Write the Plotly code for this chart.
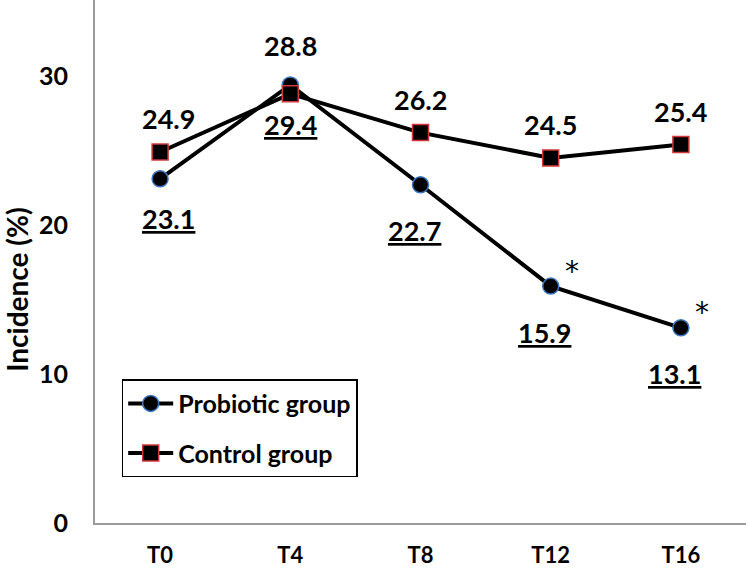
import plotly.graph_objects as go

# time points and incidence values (%)
timepoints = ["T0", "T4", "T8", "T12", "T16"]
probiotic = [23.1, 29.4, 22.7, 15.9, 13.1]
control = [24.9, 28.8, 26.2, 24.5, 25.4]
significant = [False, False, False, True, True]  # * marks on probiotic group

FONT = "Lato"

fig = go.Figure()

fig.add_trace(go.Scatter(
    x=timepoints, y=probiotic, mode="lines+markers", name="Probiotic group",
    legendgroup="p",
    line=dict(color="black", width=4),
    marker=dict(symbol="circle", size=16, color="black", line=dict(color="#3a78c2", width=1.5)),
))
fig.add_trace(go.Scatter(
    x=timepoints, y=control, mode="lines+markers", name="Control group",
    legendgroup="c",
    line=dict(color="black", width=4),
    marker=dict(symbol="square", size=16, color="black", line=dict(color="#d0383a", width=1.5)),
))

# value labels: control above, probiotic below (underlined)
for i, t in enumerate(timepoints):
    up = 48 if t == "T4" else 33
    fig.add_annotation(x=t, y=control[i], text=f"{control[i]}", showarrow=False,
                       yshift=up, xshift=8 if i == 0 else 0,
                       font=dict(family=FONT, size=27, color="black", weight="bold"))
    down = -40 if i < 2 else -46
    xs = 8 if i == 0 else (-6 if i >= 2 else 0)
    fig.add_annotation(x=t, y=probiotic[i], text=f"<u>{probiotic[i]}</u>", showarrow=False,
                       yshift=down, xshift=xs,
                       font=dict(family=FONT, size=27, color="black", weight="bold"))
    if significant[i]:
        fig.add_annotation(x=t, y=probiotic[i], text="*", showarrow=False,
                           xshift=21, yshift=15,
                           font=dict(family="DejaVu Sans", size=28, color="black"))

fig.add_annotation(xref="paper", yref="paper", x=-0.119, y=0.445, text="Incidence (%)",
                   textangle=-90, showarrow=False, xanchor="center", yanchor="middle",
                   font=dict(family=FONT, size=28, color="black", weight="bold"))

fig.update_xaxes(
    type="category", range=[-0.5, 4.5], showline=True, linecolor="#9a9a9a", linewidth=2,
    showgrid=False, ticks="", ticklabelstandoff=12, automargin=False,
    tickfont=dict(family=FONT, size=22, color="black", weight="bold"),
)
fig.update_yaxes(
    range=[0, 35.1], tickvals=[0, 10, 20, 30], showline=True, linecolor="#9a9a9a", linewidth=2,
    showgrid=False, zeroline=False, ticks="", ticklabelstandoff=20, automargin=False,
    tickfont=dict(family=FONT, size=25, color="black", weight="bold"),
)

fig.update_layout(
    width=748, height=580,
    margin=dict(l=95, r=2, t=0, b=57),
    paper_bgcolor="white", plot_bgcolor="white",
    showlegend=True,
    legend=dict(
        x=0.041, y=0.275, xanchor="left", yanchor="top",
        bgcolor="white", bordercolor="black", borderwidth=1.5,
        traceorder="grouped", tracegroupgap=14, itemwidth=45,
        font=dict(family=FONT, size=25, color="black", weight="bold"),
    ),
)

# drop the browser's default body margin so the figure sits at the page corner
fig.write_html("out.html", config={"displayModeBar": False},
               post_script="document.body.style.margin='0';")
